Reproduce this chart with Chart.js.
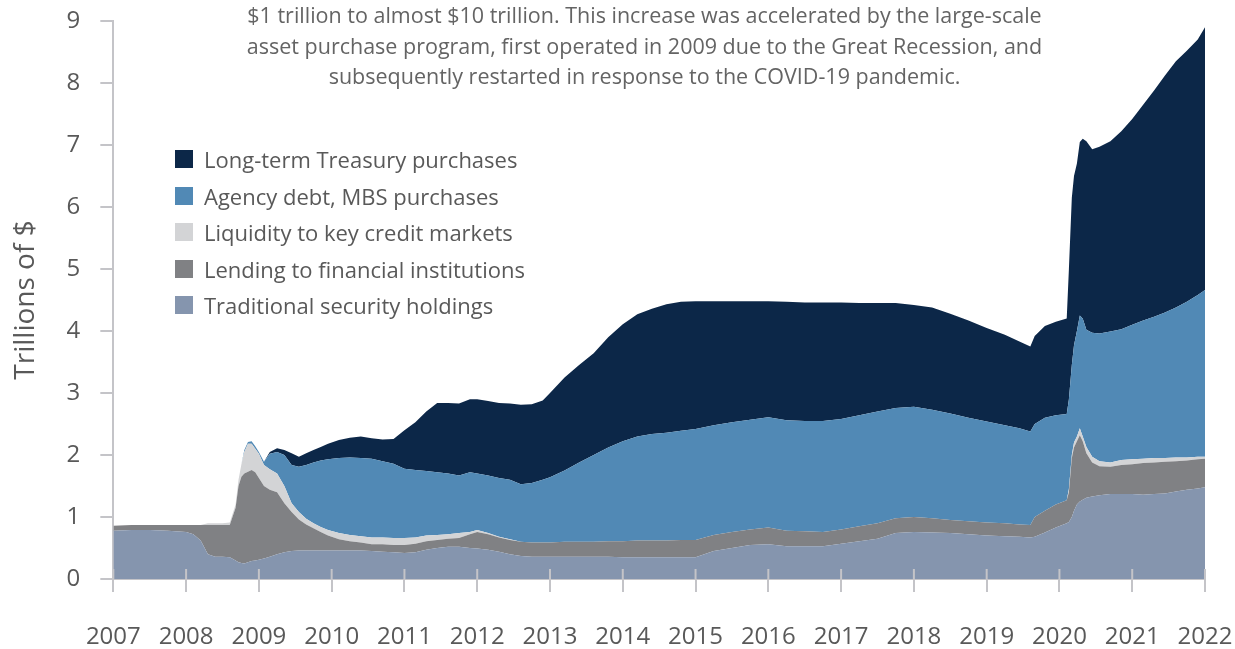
<!DOCTYPE html>
<html>
<head>
<meta charset="utf-8">
<script src="https://cdn.jsdelivr.net/npm/chart.js@4.4.1/dist/chart.umd.min.js"></script>
<style>
  html, body { margin: 0; padding: 0; background: #ffffff; }
  #wrap { position: relative; width: 1235px; height: 649px; overflow: hidden; font-family: "Open Sans", "Noto Sans", sans-serif; }
  #c { position: absolute; left: 0; top: 0; }
  #note { position: absolute; left: 194.5px; top: 0px; width: 900px; text-align: center; font-size: 21.5px; line-height: 30.5px; color: #646464; }
  #legend { position: absolute; left: 175px; top: 141px; }
  .row { position: relative; height: 36.6px; font-size: 22px; line-height: 36.6px; color: #595959; white-space: nowrap; }
  .sw { position: absolute; left: 0; top: 9px; width: 18px; height: 18px; }
  .lbl { position: absolute; left: 29px; top: 0; }
</style>
</head>
<body>
<div id="wrap">
  <canvas id="c" width="1235" height="649"></canvas>
  <div id="note">
    <div>$1 trillion to almost $10 trillion. This increase was accelerated by the large-scale</div>
    <div>asset purchase program, first operated in 2009 due to the Great Recession, and</div>
    <div>subsequently restarted in response to the COVID-19 pandemic.</div>
  </div>
  <div id="legend"></div>
</div>
<script>
// ---- data (trillions of $) ----
const years = [2007.0, 2007.25, 2007.5, 2007.75, 2008.0, 2008.1, 2008.2, 2008.3, 2008.4, 2008.5,
  2008.6, 2008.68, 2008.72, 2008.76, 2008.8, 2008.85, 2008.9, 2008.95, 2009.0, 2009.07,
  2009.15, 2009.25, 2009.35, 2009.45, 2009.55, 2009.65, 2009.75, 2009.85, 2009.95, 2010.1,
  2010.25, 2010.4, 2010.55, 2010.7, 2010.85, 2011.0, 2011.15, 2011.3, 2011.45, 2011.6,
  2011.75, 2011.9, 2012.0, 2012.15, 2012.3, 2012.45, 2012.6, 2012.75, 2012.9, 2013.0,
  2013.2, 2013.4, 2013.6, 2013.8, 2014.0, 2014.2, 2014.4, 2014.6, 2014.8, 2015.0,
  2015.25, 2015.5, 2015.75, 2016.0, 2016.25, 2016.5, 2016.75, 2017.0, 2017.25, 2017.5,
  2017.75, 2018.0, 2018.25, 2018.5, 2018.75, 2019.0, 2019.25, 2019.45, 2019.6, 2019.66,
  2019.8, 2019.95, 2020.1, 2020.13, 2020.17, 2020.2, 2020.24, 2020.28, 2020.32, 2020.37,
  2020.45, 2020.55, 2020.7, 2020.85, 2021.0, 2021.15, 2021.3, 2021.45, 2021.6, 2021.75,
  2021.9, 2022.0];

const traditional = [0.78, 0.79, 0.79, 0.78, 0.76, 0.72, 0.62, 0.40, 0.36, 0.36,
  0.35, 0.30, 0.27, 0.26, 0.25, 0.27, 0.29, 0.30, 0.31, 0.33,
  0.36, 0.40, 0.43, 0.45, 0.46, 0.46, 0.46, 0.46, 0.46, 0.46,
  0.46, 0.46, 0.45, 0.44, 0.43, 0.42, 0.43, 0.47, 0.50, 0.52,
  0.52, 0.50, 0.49, 0.47, 0.44, 0.40, 0.37, 0.36, 0.36, 0.36,
  0.36, 0.36, 0.36, 0.36, 0.35, 0.35, 0.35, 0.35, 0.35, 0.35,
  0.45, 0.50, 0.55, 0.56, 0.53, 0.53, 0.53, 0.57, 0.61, 0.65,
  0.74, 0.76, 0.75, 0.74, 0.72, 0.70, 0.69, 0.68, 0.67, 0.68,
  0.75, 0.83, 0.90, 0.92, 1.00, 1.10, 1.20, 1.25, 1.28, 1.31,
  1.33, 1.35, 1.37, 1.37, 1.37, 1.36, 1.37, 1.38, 1.41, 1.44,
  1.46, 1.48];

const lending = [0.08, 0.08, 0.08, 0.09, 0.11, 0.15, 0.25, 0.47, 0.51, 0.51,
  0.52, 0.85, 1.23, 1.39, 1.45, 1.46, 1.47, 1.42, 1.32, 1.17,
  1.08, 1.00, 0.79, 0.63, 0.50, 0.42, 0.36, 0.30, 0.24, 0.18,
  0.15, 0.13, 0.11, 0.12, 0.12, 0.13, 0.14, 0.14, 0.13, 0.13,
  0.14, 0.22, 0.27, 0.25, 0.23, 0.23, 0.23, 0.23, 0.23, 0.23,
  0.24, 0.24, 0.24, 0.25, 0.26, 0.27, 0.27, 0.27, 0.28, 0.28,
  0.26, 0.26, 0.25, 0.27, 0.25, 0.24, 0.23, 0.23, 0.24, 0.25,
  0.24, 0.24, 0.23, 0.21, 0.21, 0.21, 0.21, 0.20, 0.20, 0.32,
  0.35, 0.37, 0.37, 0.48, 0.95, 1.02, 1.02, 1.07, 0.94, 0.72,
  0.55, 0.47, 0.44, 0.47, 0.48, 0.51, 0.51, 0.51, 0.49, 0.47,
  0.47, 0.46];

const liquidity = [0, 0, 0, 0, 0, 0, 0, 0.03, 0.03, 0.03,
  0.04, 0.05, 0.10, 0.20, 0.35, 0.45, 0.42, 0.38, 0.39, 0.34,
  0.33, 0.30, 0.28, 0.14, 0.12, 0.09, 0.08, 0.08, 0.09, 0.10,
  0.10, 0.10, 0.11, 0.11, 0.11, 0.11, 0.10, 0.09, 0.08, 0.07,
  0.08, 0.04, 0.03, 0.02, 0.01, 0.01, 0, 0, 0, 0,
  0, 0, 0, 0, 0, 0, 0, 0, 0, 0,
  0, 0, 0, 0, 0, 0, 0, 0, 0, 0,
  0, 0, 0, 0, 0, 0, 0, 0, 0, 0,
  0, 0, 0, 0.05, 0.05, 0.08, 0.08, 0.11, 0.08, 0.10,
  0.09, 0.08, 0.07, 0.08, 0.08, 0.07, 0.07, 0.06, 0.06, 0.05,
  0.04, 0.03];

const agency = [0, 0, 0, 0, 0, 0, 0, 0, 0, 0,
  0, 0, 0, 0, 0.03, 0.03, 0.04, 0.04, 0.03, 0.05,
  0.25, 0.35, 0.50, 0.62, 0.73, 0.87, 0.98, 1.07, 1.14, 1.21,
  1.25, 1.26, 1.27, 1.23, 1.20, 1.12, 1.09, 1.04, 1.01, 0.98,
  0.93, 0.96, 0.91, 0.93, 0.95, 0.96, 0.93, 0.96, 1.01, 1.05,
  1.15, 1.28, 1.40, 1.51, 1.61, 1.68, 1.72, 1.74, 1.76, 1.79,
  1.77, 1.77, 1.77, 1.78, 1.78, 1.78, 1.79, 1.78, 1.79, 1.80,
  1.78, 1.78, 1.75, 1.72, 1.67, 1.63, 1.58, 1.55, 1.51, 1.50,
  1.50, 1.44, 1.39, 1.45, 1.45, 1.57, 1.70, 1.82, 1.90, 1.89,
  2.00, 2.06, 2.11, 2.11, 2.17, 2.23, 2.28, 2.35, 2.42, 2.51,
  2.61, 2.69];

const treasury = [0, 0, 0, 0, 0, 0, 0, 0, 0, 0,
  0, 0, 0, 0, 0, 0, 0, 0, 0, 0,
  0.03, 0.06, 0.08, 0.19, 0.16, 0.19, 0.20, 0.22, 0.25, 0.29,
  0.32, 0.35, 0.33, 0.35, 0.40, 0.62, 0.77, 0.96, 1.12, 1.14,
  1.16, 1.18, 1.20, 1.20, 1.21, 1.23, 1.28, 1.27, 1.28, 1.36,
  1.50, 1.57, 1.64, 1.78, 1.89, 1.97, 2.02, 2.07, 2.08, 2.06,
  2.00, 1.95, 1.91, 1.87, 1.91, 1.91, 1.91, 1.88, 1.81, 1.75,
  1.69, 1.64, 1.65, 1.61, 1.57, 1.51, 1.46, 1.40, 1.37, 1.42,
  1.48, 1.51, 1.54, 2.10, 2.70, 2.73, 2.70, 2.80, 2.90, 3.04,
  2.96, 3.01, 3.07, 3.19, 3.32, 3.48, 3.65, 3.82, 3.97, 4.05,
  4.12, 4.24];

const seriesNames = ["Traditional security holdings", "Lending to financial institutions",
  "Liquidity to key credit markets", "Agency debt, MBS purchases", "Long-term Treasury purchases"];
const seriesColors = ["#8595ae", "#808184", "#d3d4d6", "#5189b5", "#0c2748"];
const yTicks = [0, 1, 2, 3, 4, 5, 6, 7, 8, 9];
const xTicks = [2007, 2008, 2009, 2010, 2011, 2012, 2013, 2014, 2015, 2016, 2017, 2018, 2019, 2020, 2021, 2022];

const seriesValues = [traditional, lending, liquidity, agency, treasury];
const axisColor = "#c4c4c8";
const textColor = "#595959";
const FONT = "'Open Sans', 'Noto Sans', sans-serif";

const datasets = seriesValues.map((vals, k) => ({
  label: seriesNames[k],
  data: years.map((yr, i) => ({ x: yr, y: vals[i] })),
  backgroundColor: seriesColors[k],
  borderColor: seriesColors[k],
  borderWidth: 0,
  pointRadius: 0,
  pointHoverRadius: 0,
  tension: 0,
  fill: k === 0 ? 'origin' : '-1'
}));

// short tick segments above the x axis (ticks cross the axis line)
const crossTicks = {
  id: 'crossTicks',
  afterDraw(chart) {
    const xs = chart.scales.x;
    const ctx = chart.ctx;
    ctx.save();
    ctx.strokeStyle = axisColor;
    ctx.lineWidth = 2;
    xs.ticks.forEach((t, i) => {
      const px = xs.getPixelForTick(i);
      ctx.beginPath();
      ctx.moveTo(px, xs.top - 10);
      ctx.lineTo(px, xs.top);
      ctx.stroke();
    });
    ctx.restore();
  }
};

new Chart(document.getElementById('c'), {
  type: 'line',
  data: { datasets },
  plugins: [crossTicks],
  options: {
    responsive: false,
    animation: false,
    devicePixelRatio: 1,
    layout: { padding: { left: 0, right: 0, top: 0, bottom: 0 } },
    plugins: { legend: { display: false }, tooltip: { enabled: false }, title: { display: false } },
    elements: { line: { borderWidth: 0 } },
    scales: {
      x: {
        type: 'linear',
        min: 2007, max: 2022,
        z: 1,
        afterBuildTicks: (s) => { s.ticks = xTicks.map(v => ({ value: v })); },
        afterFit: (s) => { s.paddingLeft = 0; s.paddingRight = 30; s.height = 70; },
        ticks: {
          callback: (v) => String(v),
          font: { family: FONT, size: 24, lineHeight: 1.0 },
          color: textColor,
          padding: 33,
          maxRotation: 0,
          autoSkip: false
        },
        grid: { drawOnChartArea: false, drawTicks: true, tickLength: 13, color: axisColor, lineWidth: 2 },
        border: { display: true, color: axisColor, width: 2 }
      },
      y: {
        stacked: true,
        min: 0, max: 9,
        z: 1,
        afterBuildTicks: (s) => { s.ticks = yTicks.map(v => ({ value: v })); },
        afterFit: (s) => { s.paddingTop = 21; s.paddingBottom = 0; },
        ticks: {
          font: { family: FONT, size: 24 },
          color: textColor,
          padding: 20
        },
        grid: { drawOnChartArea: false, drawTicks: true, tickLength: 13, color: axisColor, lineWidth: 2 },
        border: { display: true, color: axisColor, width: 2 },
        title: {
          display: true,
          text: 'Trillions of $',
          font: { family: FONT, size: 28 },
          color: textColor,
          padding: { top: 9, bottom: 4 }
        }
      }
    }
  }
});

// legend (top-to-bottom order mirrors the stack)
const legend = document.getElementById('legend');
for (let k = seriesNames.length - 1; k >= 0; k--) {
  const row = document.createElement('div');
  row.className = 'row';
  const sw = document.createElement('span');
  sw.className = 'sw';
  sw.style.background = seriesColors[k];
  const lb = document.createElement('span');
  lb.className = 'lbl';
  lb.textContent = seriesNames[k];
  row.appendChild(sw);
  row.appendChild(lb);
  legend.appendChild(row);
}
</script>
</body>
</html>
